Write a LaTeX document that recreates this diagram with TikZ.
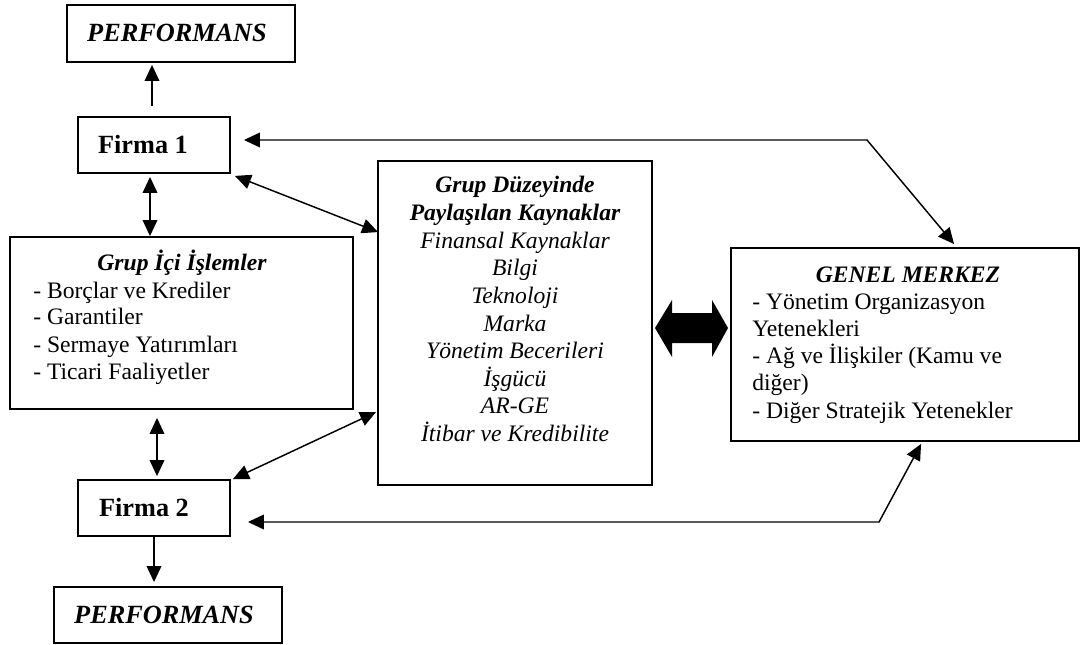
\documentclass[tikz,border=0pt]{standalone}
\usepackage{fontspec}
\setmainfont{Liberation Serif}
\usetikzlibrary{arrows.meta,calc}
\begin{document}
\begin{tikzpicture}[x=0.75pt,y=-0.75pt,inner sep=0pt,
 box/.style={draw,line width=1.4pt},
 conn/.style={line width=1.1pt},
 tip/.style={-{Triangle[length=12pt,width=11pt]}},
 dbl/.style={{Triangle[length=12pt,width=11pt]}-{Triangle[length=12pt,width=11pt]}},
 big/.style={font=\fontsize{19.7}{23}\selectfont\bfseries},
 bigit/.style={font=\fontsize{19.7}{23}\selectfont\bfseries\itshape},
 tit/.style={font=\fontsize{17.7}{21}\selectfont\bfseries\itshape},
 txt/.style={font=\fontsize{17.7}{21}\selectfont},
 txtit/.style={font=\fontsize{17.7}{21}\selectfont\itshape}
]
\useasboundingbox (0,0) rectangle (1081,645);

% boxes
\node[box,minimum width=171pt,minimum height=42.75pt] (perf1) at (181,33.5) {};
\node[box,minimum width=114pt,minimum height=42pt] (f1) at (154,145) {};
\node[box,minimum width=257.25pt,minimum height=129pt] (gi) at (181.5,323) {};
\node[box,minimum width=205.5pt,minimum height=243pt] (gd) at (515,323) {};
\node[box,minimum width=261pt,minimum height=144.75pt] (gm) at (905,344.5) {};
\node[box,minimum width=114pt,minimum height=42pt] (f2) at (154,508) {};
\node[box,minimum width=171pt,minimum height=42pt] (perf2) at (168,615) {};

% texts
\node[bigit,anchor=base] (perf1t) at (177,42) {PERFORMANS};
\node[big,anchor=base] (f1t) at (143,154) {Firma 1};
\node[big,anchor=base] (f2t) at (144,516) {Firma 2};
\node[bigit,anchor=base] (perf2t) at (164,623) {PERFORMANS};

\node[tit,anchor=base] (git) at (182,271) {Grup İçi İşlemler};
\foreach \t [count=\i] in {- Borçlar ve Krediler, - Garantiler, - Sermaye Yatırımları, - Ticari Faaliyetler}
  \node[txt,anchor=base west] (gil\i) at (33,271+27*\i) {\t};

\node[tit,anchor=base] (gdt1) at (515,193) {Grup Düzeyinde};
\node[tit,anchor=base] (gdt2) at (515,220.6) {Paylaşılan Kaynaklar};
\foreach \t [count=\i] in {Finansal Kaynaklar, Bilgi, Teknoloji, Marka, Yönetim Becerileri, İşgücü, AR-GE, İtibar ve Kredibilite}
  \node[txtit,anchor=base] (gdl\i) at (515,220.6+27.6*\i) {\t};

\node[tit,anchor=base] (gmt) at (908,282) {GENEL MERKEZ};
\foreach \t [count=\i] in {- Yönetim Organizasyon, Yetenekleri, - Ağ ve İlişkiler (Kamu ve, diğer), - Diğer Stratejik Yetenekler}
  \node[txt,anchor=base west] (gml\i) at (752,282+27.2*\i) {\t};

% thick double arrow
\fill (655,328) -- (672,300) -- (672,313) -- (712,313) -- (712,300) -- (728,328)
  -- (712,357) -- (712,343) -- (672,343) -- (672,357) -- cycle;

% connectors
\draw[conn,tip] ($(f1.north)+(-2,-10)$) -- ($(perf1.south)+(-29,2)$);
\draw[conn,dbl] ($(f1.south)+(-4,3)$) -- ($(f1.south |- gi.north)+(-4,0)$);
\draw[conn,dbl] ($(gi.south -| f2.north)+(3,8)$) -- ($(f2.north)+(3,-3)$);
\draw[conn,tip] (f2.south) -- ($(perf2.north -| f2.south)+(0,-4)$);
\draw[conn,dbl] ($(f1.south east)+(4,2)$) -- ($(gd.north west)+(1,72)$);
\draw[conn,dbl] ($(f2.north east)+(2,0)$) -- ($(gd.north west)+(-1,252)$);
\coordinate (c1) at (867,140);
\coordinate (c2) at (879,522);
\draw[conn,dbl] ($(f1.east)+(13,-5)$) -- (c1) -- ($(gm.north west)+(224,-3)$);
\draw[conn,dbl] ($(f2.east)+(17,14)$) -- (c2) -- ($(gm.south west)+(191,2)$);
\end{tikzpicture}
\end{document}
